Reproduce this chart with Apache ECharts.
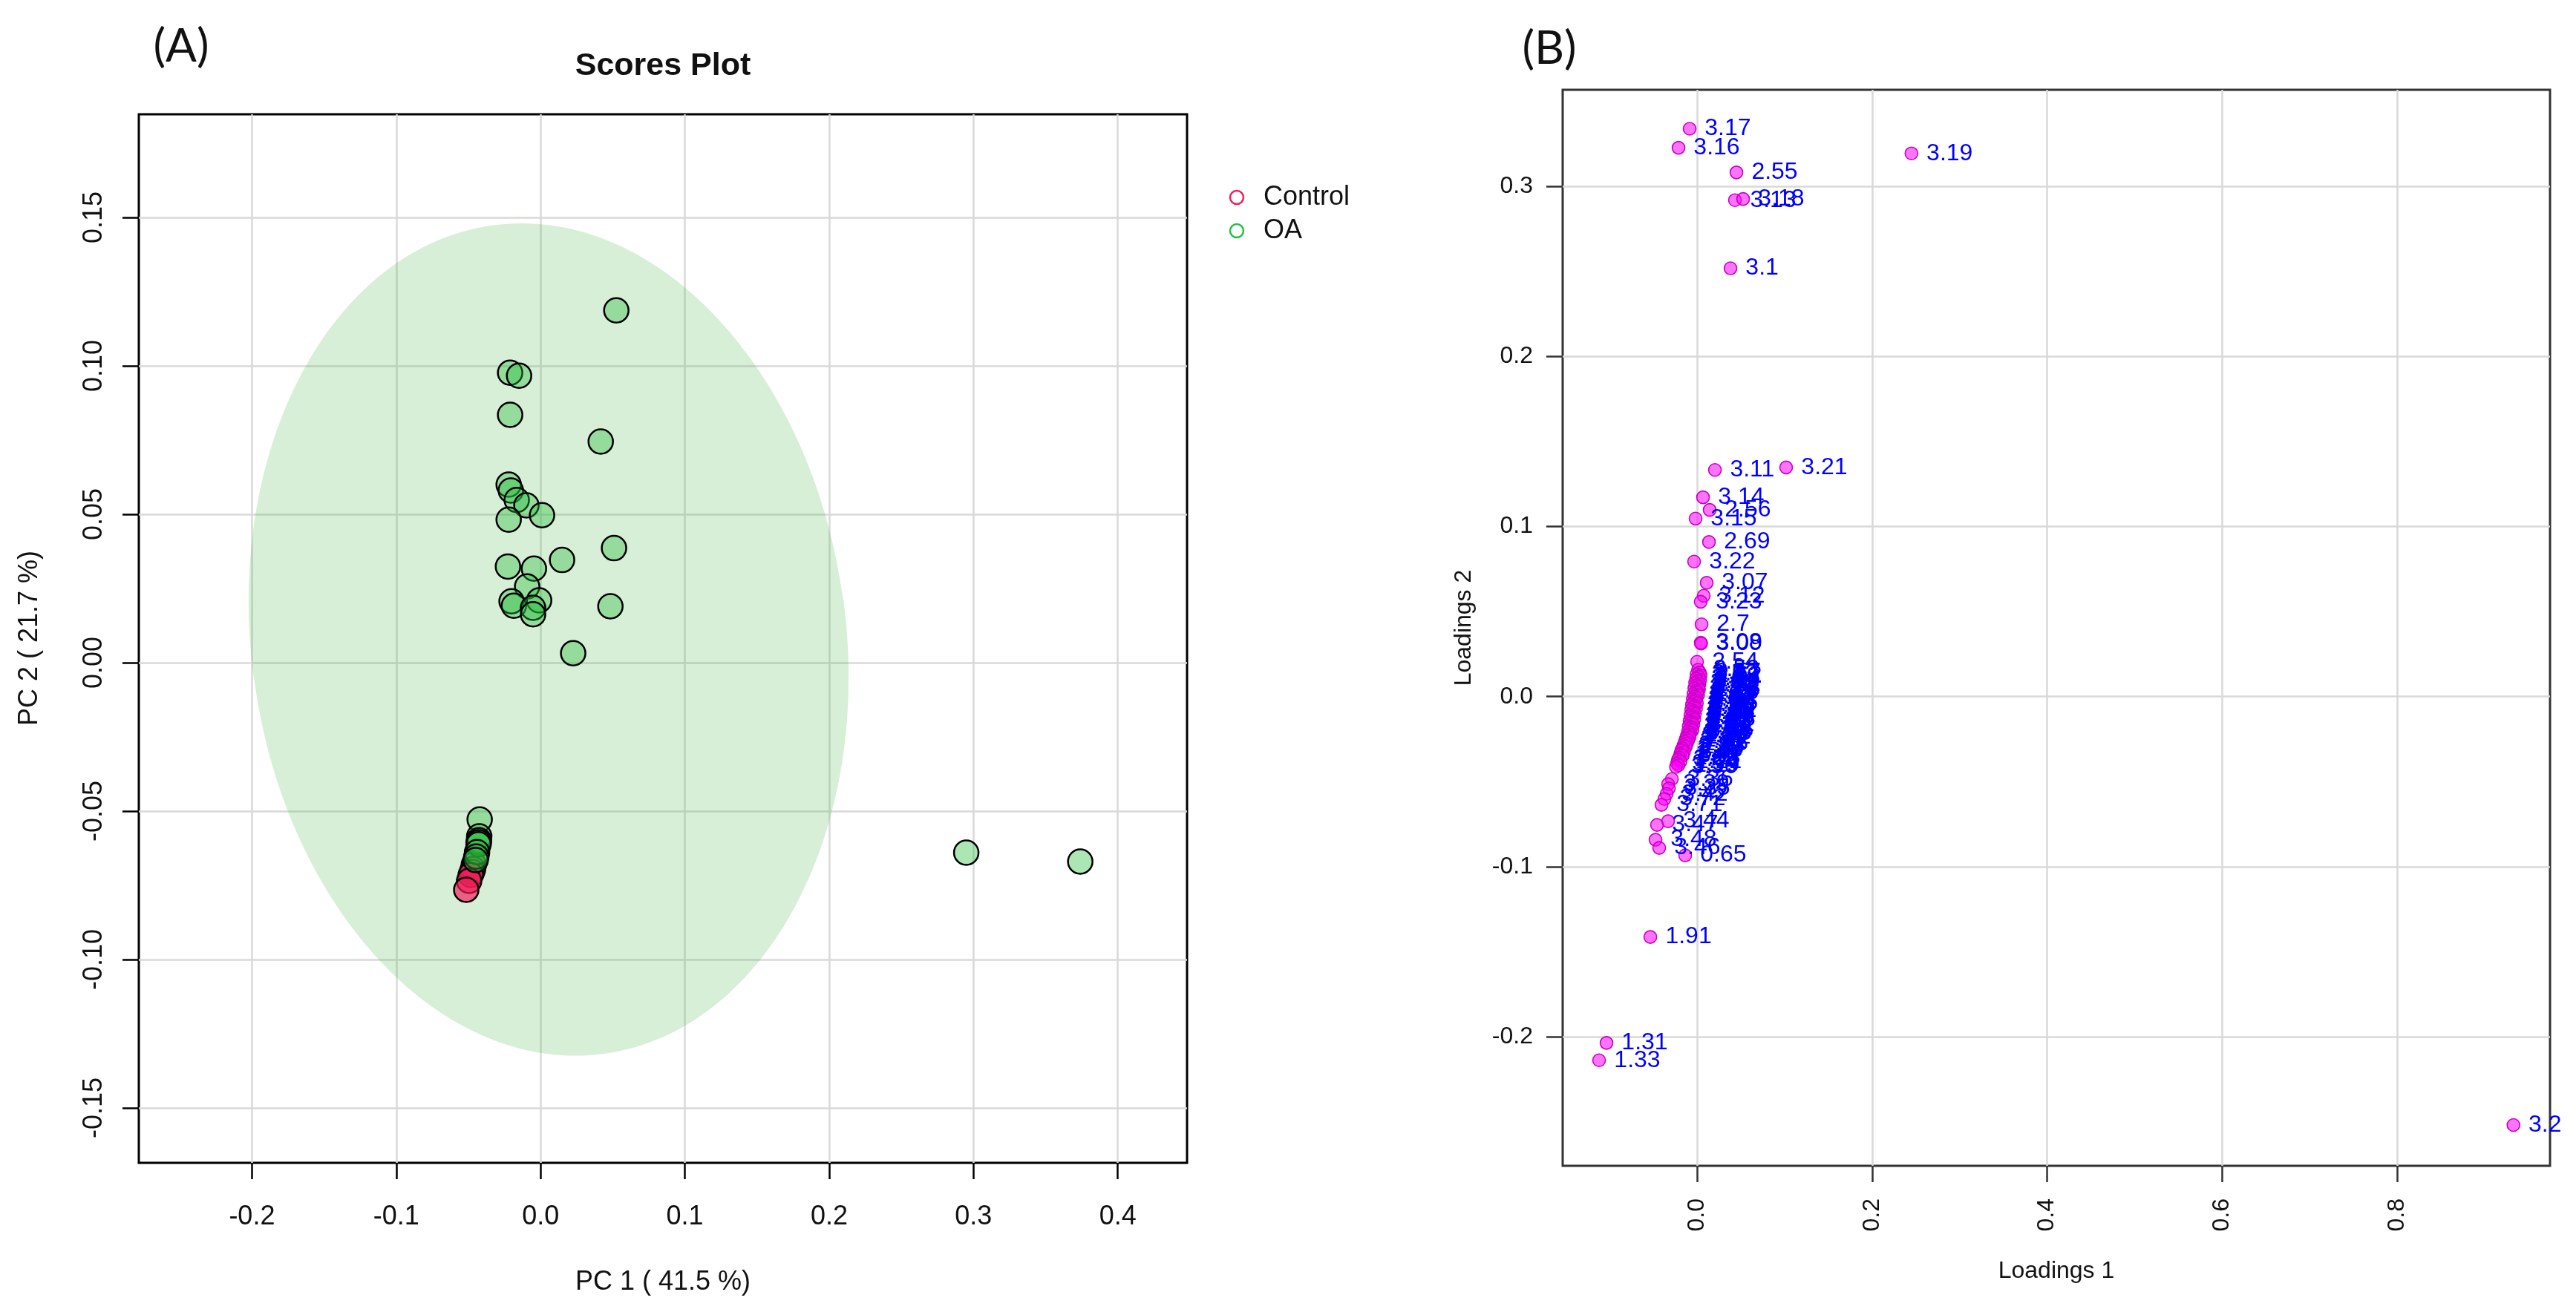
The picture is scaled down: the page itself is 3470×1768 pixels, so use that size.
<!DOCTYPE html>
<html>
<head>
<meta charset="utf-8">
<title>PCA scores / loadings</title>
<script src="https://cdn.jsdelivr.net/npm/echarts@6/dist/echarts.min.js"></script>
<style>
html, body { margin: 0; padding: 0; background: #fff; }
#chart { width: 3470px; height: 1768px; }
</style>
</head>
<body>
<div id="chart"></div>
<script>
// ---- (A) scores plot ----
var controlScores = [
    [-0.0462, -0.0680], [-0.0468, -0.0695], [-0.0475, -0.0705],
    [-0.0484, -0.0715], [-0.0495, -0.0735], [-0.0515, -0.0765]
];
var oaScores = [
    [0.0525, 0.1187], [-0.0211, 0.0977], [-0.0149, 0.0967], [-0.0211, 0.0835],
    [0.0417, 0.0745], [-0.0221, 0.0600], [-0.0206, 0.0580], [-0.0165, 0.0548],
    [-0.0098, 0.0530], [-0.0221, 0.0482], [0.0010, 0.0497], [0.0509, 0.0386],
    [0.0149, 0.0346], [-0.0226, 0.0324], [-0.0046, 0.0317], [-0.0093, 0.0257],
    [-0.0201, 0.0207], [-0.0010, 0.0210], [-0.0185, 0.0192], [-0.0052, 0.0185],
    [-0.0052, 0.0163], [0.0484, 0.0190], [0.0226, 0.0032],
    [-0.0422, -0.0528], [-0.0425, -0.0585], [-0.0427, -0.0598], [-0.0428, -0.0605],
    [-0.0430, -0.0612], [-0.0440, -0.0638], [-0.0445, -0.0653], [-0.0450, -0.0665],
    [0.2950, -0.0640], [0.3740, -0.0670]
];
// 95% region of OA: centre x, centre y, half width, half height (data units), tilt in degrees
var oaEllipse = [0.0057, 0.0078, 0.206, 0.1408, 7.6];
var scoreXTicks = [-0.2, -0.1, 0, 0.1, 0.2, 0.3, 0.4];
var scoreYTicks = [-0.15, -0.1, -0.05, 0, 0.05, 0.1, 0.15];

// ---- (B) loadings plot ---- [label, loading 1, loading 2]
var loadTop = [
    ['3.17', -0.0085, 0.3340], ['3.16', -0.0212, 0.3228], ['3.19', 0.2450, 0.3195],
    ['2.55', 0.0450, 0.3083], ['3.13', 0.0433, 0.2920], ['3.18', 0.0526, 0.2927],
    ['3.1', 0.0382, 0.2519], ['3.11', 0.0204, 0.1333], ['3.21', 0.1018, 0.1348],
    ['3.14', 0.0068, 0.1172], ['2.56', 0.0144, 0.1098], ['3.15', -0.0017, 0.1047],
    ['2.69', 0.0136, 0.0909], ['3.22', -0.0034, 0.0794], ['3.07', 0.0110, 0.0669],
    ['3.12', 0.0076, 0.0593], ['3.23', 0.0042, 0.0558], ['2.7', 0.0051, 0.0425],
    ['3.08', 0.0042, 0.0317], ['3.09', 0.0046, 0.0312], ['2.54', 0.0000, 0.0205]
];
var loadBand = [
    ['2.53', 0.0012, 0.0158], ['2.57', 0.0030, 0.0142], ['2.52', -0.0005, 0.0131],
    ['2.62', 0.0041, 0.0125], ['2.58', 0.0018, 0.0117], ['2.6', -0.0010, 0.0106],
    ['2.64', 0.0035, 0.0098], ['2.5', 0.0006, 0.0090], ['2.66', -0.0022, 0.0081],
    ['2.72', 0.0027, 0.0074], ['2.48', -0.0008, 0.0066], ['2.74', 0.0015, 0.0057],
    ['2.46', -0.0031, 0.0049], ['2.76', 0.0022, 0.0041], ['2.44', -0.0015, 0.0033],
    ['2.78', 0.0004, 0.0024], ['2.42', -0.0040, 0.0016], ['2.8', 0.0011, 0.0009],
    ['2.4', -0.0026, 0.0001], ['2.82', -0.0007, -0.0008], ['2.37', -0.0048, -0.0015],
    ['2.84', -0.0019, -0.0023], ['2.35', -0.0036, -0.0031], ['2.86', -0.0002, -0.0039],
    ['2.27', -0.0058, -0.0047], ['2.88', -0.0029, -0.0054], ['2.25', -0.0044, -0.0062],
    ['2.9', -0.0012, -0.0070], ['2.15', -0.0067, -0.0078], ['2.92', -0.0038, -0.0086],
    ['2.13', -0.0053, -0.0093], ['2.94', -0.0024, -0.0101], ['2.11', -0.0076, -0.0110],
    ['2.96', -0.0047, -0.0117], ['2.07', -0.0062, -0.0125], ['2.98', -0.0033, -0.0133],
    ['2.05', -0.0085, -0.0142], ['3', -0.0056, -0.0149], ['2.03', -0.0071, -0.0157],
    ['3.02', -0.0043, -0.0165], ['2.01', -0.0095, -0.0174], ['3.04', -0.0066, -0.0181],
    ['1.99', -0.0081, -0.0190], ['3.05', -0.0054, -0.0198], ['1.92', -0.0104, -0.0206],
    ['3.25', -0.0075, -0.0214], ['1.9', -0.0091, -0.0223], ['3.27', -0.0117, -0.0231],
    ['1.72', -0.0086, -0.0239], ['3.29', -0.0128, -0.0248], ['1.67', -0.0102, -0.0257],
    ['3.31', -0.0140, -0.0266], ['1.65', -0.0115, -0.0275], ['3.33', -0.0153, -0.0285],
    ['1.5', -0.0127, -0.0294], ['3.38', -0.0166, -0.0304], ['1.48', -0.0179, -0.0315],
    ['3.4', -0.0150, -0.0326], ['1.47', -0.0192, -0.0337], ['3.5', -0.0164, -0.0348],
    ['1.23', -0.0205, -0.0359], ['3.52', -0.0218, -0.0371], ['1.21', -0.0190, -0.0382],
    ['3.54', -0.0230, -0.0393], ['1.19', -0.0213, -0.0404], ['3.56', -0.0241, -0.0414]
];
var loadLow = [
    ['3.36', -0.0288, -0.0485], ['3.39', -0.0331, -0.0515], ['3.35', -0.0322, -0.0540],
    ['3.42', -0.0348, -0.0572], ['3.72', -0.0373, -0.0602], ['3.71', -0.0407, -0.0637],
    ['3.44', -0.0331, -0.0733], ['3.47', -0.0458, -0.0755], ['3.48', -0.0475, -0.0842],
    ['3.46', -0.0433, -0.0890], ['0.65', -0.0136, -0.0934], ['1.91', -0.0534, -0.1414],
    ['1.31', -0.1035, -0.2037], ['1.33', -0.1120, -0.2139], ['3.2', 0.9330, -0.2520]
];
var loadXTicks = [0, 0.2, 0.4, 0.6, 0.8];
var loadYTicks = [-0.2, -0.1, 0, 0.1, 0.2, 0.3];

var FONT = "'Liberation Sans', Arial, sans-serif";
var chart = echarts.init(document.getElementById('chart'));

function valueAxis(grid, min, max, ticks, digits, rotate, margin, size, dark) {
    return {
        type: 'value', gridIndex: grid, min: min, max: max,
        axisLine: { show: false, onZero: false },
        axisTick: { show: true, customValues: ticks, length: 22, lineStyle: { color: dark, width: 2.5 } },
        axisLabel: {
            customValues: ticks, rotate: rotate, margin: margin,
            fontSize: size, fontFamily: FONT, color: '#111',
            formatter: function (v) { return v.toFixed(digits); }
        },
        splitLine: { show: true, lineStyle: { color: '#d9d9d9', width: 2.5 } }
    };
}

var loadAll = loadTop.concat(loadBand, loadLow).map(function (d) {
    return { name: d[0], value: [d[1], d[2]] };
});

function txt(t, x, y, size, opts) {
    opts = opts || {};
    return {
        type: 'text', x: x, y: y, rotation: opts.rot || 0, z: 100,
        style: {
            text: t, fill: opts.color || '#111', align: opts.align || 'center', verticalAlign: 'middle',
            font: (opts.bold ? 'bold ' : '') + size + 'px ' + (opts.family || FONT)
        }
    };
}

var option = {
    backgroundColor: '#fff',
    animation: false,
    grid: [
        { left: 187, top: 154, width: 1412, height: 1413, show: true, borderColor: '#000', borderWidth: 3, backgroundColor: 'transparent' },
        { left: 2105, top: 121, width: 1330, height: 1450, show: true, borderColor: '#333', borderWidth: 3, backgroundColor: 'transparent' }
    ],
    xAxis: [
        valueAxis(0, -0.2784, 0.448, scoreXTicks, 1, 0, 55, 36, '#000'),
        valueAxis(1, -0.1536, 0.9748, loadXTicks, 1, 90, 44, 32, '#333')
    ],
    yAxis: [
        valueAxis(0, -0.1685, 0.18475, scoreYTicks, 2, 90, 42, 36, '#000'),
        valueAxis(1, -0.276, 0.3569, loadYTicks, 1, 0, 40, 32, '#333')
    ],
    series: [
        {
            type: 'custom', xAxisIndex: 0, yAxisIndex: 0, z: 1, silent: true,
            data: [oaEllipse],
            renderItem: function (params, api) {
                var c = api.coord([api.value(0), api.value(1)]);
                var rx = api.size([api.value(2), 0])[0];
                var ry = api.size([0, api.value(3)])[1];
                return {
                    type: 'ellipse', x: c[0], y: c[1],
                    rotation: api.value(4) * Math.PI / 180,
                    shape: { cx: 0, cy: 0, rx: rx, ry: ry },
                    style: { fill: 'rgba(84,180,84,0.23)' }
                };
            }
        },
        {
            name: 'Control', type: 'scatter', xAxisIndex: 0, yAxisIndex: 0, z: 2,
            symbolSize: 33, data: controlScores,
            itemStyle: { color: 'rgba(240,30,90,0.68)', borderColor: '#000', borderWidth: 2.5, opacity: 1 }
        },
        {
            name: 'OA', type: 'scatter', xAxisIndex: 0, yAxisIndex: 0, z: 3,
            symbolSize: 33, data: oaScores,
            itemStyle: { color: 'rgba(40,190,60,0.38)', borderColor: '#000', borderWidth: 2.5, opacity: 1 }
        },
        {
            name: 'Loadings', type: 'scatter', xAxisIndex: 1, yAxisIndex: 1, z: 2,
            symbolSize: 17, data: loadAll,
            itemStyle: { color: 'rgba(255,0,255,0.55)', borderColor: '#c800c0', borderWidth: 1.6, opacity: 1 },
            label: {
                show: true, position: 'right', distance: 11,
                color: '#0000ff', fontSize: 32, fontFamily: FONT,
                formatter: function (p) { return p.name; }
            }
        }
    ],
    graphic: [
        txt('(A)', 244, 63, 62, { family: "Lato, 'Open Sans', sans-serif" }),
        txt('(B)', 2087, 66, 62, { family: "Lato, 'Open Sans', sans-serif" }),
        txt('Scores Plot', 893, 89, 43, { bold: true }),
        txt('PC 1 ( 41.5 %)', 893, 1728, 36),
        txt('PC 2 ( 21.7 %)', 40, 860, 36, { rot: Math.PI / 2 }),
        txt('Loadings 1', 2770, 1713, 32),
        txt('Loadings 2', 1972, 846, 32, { rot: Math.PI / 2 }),
        { type: 'circle', shape: { cx: 1666, cy: 266, r: 9 }, style: { fill: 'none', stroke: '#f01e5a', lineWidth: 2.5 }, z: 100 },
        { type: 'circle', shape: { cx: 1666, cy: 311, r: 9 }, style: { fill: 'none', stroke: '#28be46', lineWidth: 2.5 }, z: 100 },
        txt('Control', 1702, 266, 36, { align: 'left' }),
        txt('OA', 1702, 311, 36, { align: 'left' })
    ]
};
chart.setOption(option);
</script>
</body>
</html>
